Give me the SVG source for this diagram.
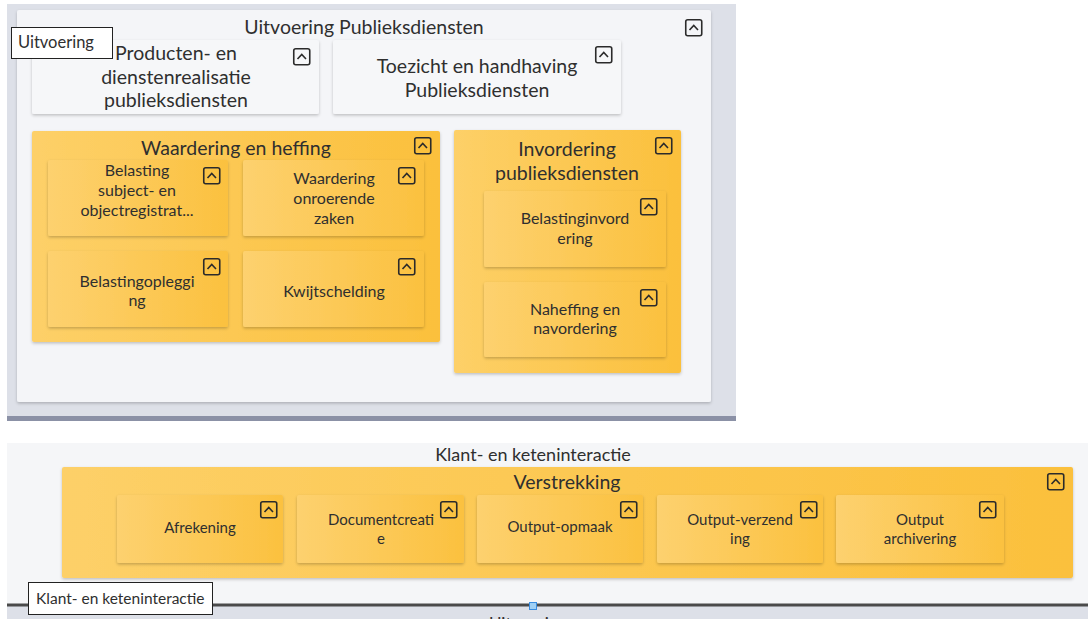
<svg xmlns="http://www.w3.org/2000/svg" xmlns:xlink="http://www.w3.org/1999/xlink" width="1088" height="619" viewBox="0 0 1088 619">
<defs>
  <linearGradient id="og" x1="0" y1="0" x2="1" y2="0">
    <stop offset="0" stop-color="#fdd068"/>
    <stop offset="1" stop-color="#fbc03c"/>
  </linearGradient>
  <linearGradient id="sg" x1="0" y1="0" x2="1" y2="0">
    <stop offset="0" stop-color="#fdd16f"/>
    <stop offset="1" stop-color="#fbc13f"/>
  </linearGradient>
  <filter id="sh" x="-10%" y="-10%" width="120%" height="130%">
    <feDropShadow dx="0" dy="1.5" stdDeviation="1.5" flood-color="#000" flood-opacity="0.22"/>
  </filter>
  <g id="ico">
    <rect x="0.75" y="0.75" width="16" height="16" rx="2" fill="none" stroke="#2b2b2b" stroke-width="1.6"/>
    <path d="M4.5 11 L8.75 6.5 L13 11" fill="none" stroke="#2b2b2b" stroke-width="1.6"/>
  </g>
  <style>
    text { font-family: Lato, "Open Sans", "Liberation Sans", sans-serif; fill: #2f2f2f; }
    .tg { font-size: 19.5px; text-anchor: middle; }
    .ts { font-size: 16px; text-anchor: middle; }
    .tb { font-size: 15px; text-anchor: middle; }
    .tk { font-size: 18px; text-anchor: middle; }
    .tag { font-size: 16.5px; }
    .or { fill: url(#og); filter: url(#sh); }
    .sub { fill: url(#sg); filter: url(#sh); }
    .wb { fill: #f6f7f9; filter: url(#sh); }
    .tagbox { fill: #ffffff; stroke: #222; stroke-width: 1; }
  </style>
</defs>

<!-- backgrounds -->
<g id="top-bg">
  <rect x="7" y="4" width="729" height="417" fill="#dde0e8"/>
  <rect x="7" y="416" width="729" height="5" fill="#8b91a6"/>
  <rect x="17" y="10" width="694" height="392" rx="2" fill="#f4f5f8" filter="url(#sh)"/>
</g>
<g id="bottom-bg">
  <rect x="7" y="443" width="1081" height="162" fill="#f5f6f8"/>
  <rect x="7" y="606" width="1081" height="13" fill="#dde0e8"/>
  <rect x="7" y="603.5" width="1081" height="3" fill="#4a4a4a"/>
  <rect x="529.5" y="602.5" width="7" height="7" fill="#9fd0f5" stroke="#3a8de0" stroke-width="1"/>
  <text x="489" y="630" style="font-size:17px">Uitvoering</text>
</g>

<!-- top container -->
<g id="uitvoering-publieksdiensten">
  <text class="tg" x="364" y="34">Uitvoering Publieksdiensten</text>
  <use xlink:href="#ico" x="685" y="19"/>
</g>

<g id="producten">
  <rect class="wb" x="32" y="40" width="287" height="74" rx="2"/>
  <text class="tg" x="176" y="60">Producten- en</text>
  <text class="tg" x="176" y="84">dienstenrealisatie</text>
  <text class="tg" x="176" y="107">publieksdiensten</text>
  <use xlink:href="#ico" x="293" y="48"/>
</g>

<g id="toezicht">
  <rect class="wb" x="333" y="40" width="288" height="74" rx="2"/>
  <text class="tg" x="477" y="73">Toezicht en handhaving</text>
  <text class="tg" x="477" y="97">Publieksdiensten</text>
  <use xlink:href="#ico" x="595" y="46"/>
</g>

<g id="tag-uitvoering">
  <rect class="tagbox" x="11.5" y="27.5" width="101" height="31"/>
  <text class="tag" x="18" y="48">Uitvoering</text>
</g>

<g id="waardering-en-heffing">
  <rect class="or" x="32" y="131" width="408" height="211" rx="2"/>
  <text class="tg" x="236" y="155">Waardering en heffing</text>
  <use xlink:href="#ico" x="414" y="137"/>
</g>
<g id="belasting-subject">
  <rect class="sub" x="48" y="160" width="180" height="76" rx="2"/>
  <text class="ts" x="137" y="176">Belasting</text>
  <text class="ts" x="137" y="196">subject- en</text>
  <text class="ts" x="137" y="216">objectregistrat...</text>
  <use xlink:href="#ico" x="203" y="167"/>
</g>
<g id="waardering-onroerende-zaken">
  <rect class="sub" x="243" y="160" width="181" height="76" rx="2"/>
  <text class="ts" x="334" y="184">Waardering</text>
  <text class="ts" x="334" y="204">onroerende</text>
  <text class="ts" x="334" y="224">zaken</text>
  <use xlink:href="#ico" x="398" y="167"/>
</g>
<g id="belastingoplegging">
  <rect class="sub" x="48" y="251" width="180" height="76" rx="2"/>
  <text class="ts" x="137" y="287">Belastingopleggi</text>
  <text class="ts" x="137" y="306">ng</text>
  <use xlink:href="#ico" x="203" y="258"/>
</g>
<g id="kwijtschelding">
  <rect class="sub" x="243" y="251" width="181" height="76" rx="2"/>
  <text class="ts" x="334" y="297">Kwijtschelding</text>
  <use xlink:href="#ico" x="398" y="258"/>
</g>

<g id="invordering-publieksdiensten">
  <rect class="or" x="454" y="130" width="227" height="243" rx="2"/>
  <text class="tg" x="567" y="156">Invordering</text>
  <text class="tg" x="567" y="180">publieksdiensten</text>
  <use xlink:href="#ico" x="655" y="137"/>
</g>
<g id="belastinginvordering">
  <rect class="sub" x="484" y="191" width="182" height="76" rx="2"/>
  <text class="ts" x="575" y="224">Belastinginvord</text>
  <text class="ts" x="575" y="244">ering</text>
  <use xlink:href="#ico" x="640" y="198"/>
</g>
<g id="naheffing">
  <rect class="sub" x="484" y="282" width="182" height="75" rx="2"/>
  <text class="ts" x="575" y="315">Naheffing en</text>
  <text class="ts" x="575" y="334">navordering</text>
  <use xlink:href="#ico" x="640" y="289"/>
</g>

<!-- bottom container -->
<g id="klant-en-keteninteractie">
  <text class="tk" x="533" y="461">Klant- en keteninteractie</text>
</g>
<g id="verstrekking">
  <rect class="or" x="62" y="467" width="1011" height="111" rx="2"/>
  <text class="tg" x="567" y="489">Verstrekking</text>
  <use xlink:href="#ico" x="1047" y="473"/>
</g>
<g id="afrekening">
  <rect class="sub" x="117" y="495" width="166" height="68" rx="2"/>
  <text class="tb" x="200" y="533">Afrekening</text>
  <use xlink:href="#ico" x="260" y="501"/>
</g>
<g id="documentcreatie">
  <rect class="sub" x="297" y="495" width="167" height="68" rx="2"/>
  <text class="tb" x="381" y="525">Documentcreati</text>
  <text class="tb" x="381" y="544">e</text>
  <use xlink:href="#ico" x="440" y="501"/>
</g>
<g id="output-opmaak">
  <rect class="sub" x="477" y="495" width="166" height="68" rx="2"/>
  <text class="tb" x="560" y="532">Output-opmaak</text>
  <use xlink:href="#ico" x="620" y="501"/>
</g>
<g id="output-verzending">
  <rect class="sub" x="657" y="495" width="166" height="68" rx="2"/>
  <text class="tb" x="740" y="525">Output-verzend</text>
  <text class="tb" x="740" y="544">ing</text>
  <use xlink:href="#ico" x="800" y="501"/>
</g>
<g id="output-archivering">
  <rect class="sub" x="836" y="495" width="168" height="68" rx="2"/>
  <text class="tb" x="920" y="525">Output</text>
  <text class="tb" x="920" y="544">archivering</text>
  <use xlink:href="#ico" x="979" y="501"/>
</g>

<g id="tag-klant">
  <rect class="tagbox" x="28.5" y="582.5" width="184" height="32"/>
  <text class="tag" x="36" y="604" style="font-size:15.5px">Klant- en keteninteractie</text>
</g>

<g id="connectors"></g>
</svg>
